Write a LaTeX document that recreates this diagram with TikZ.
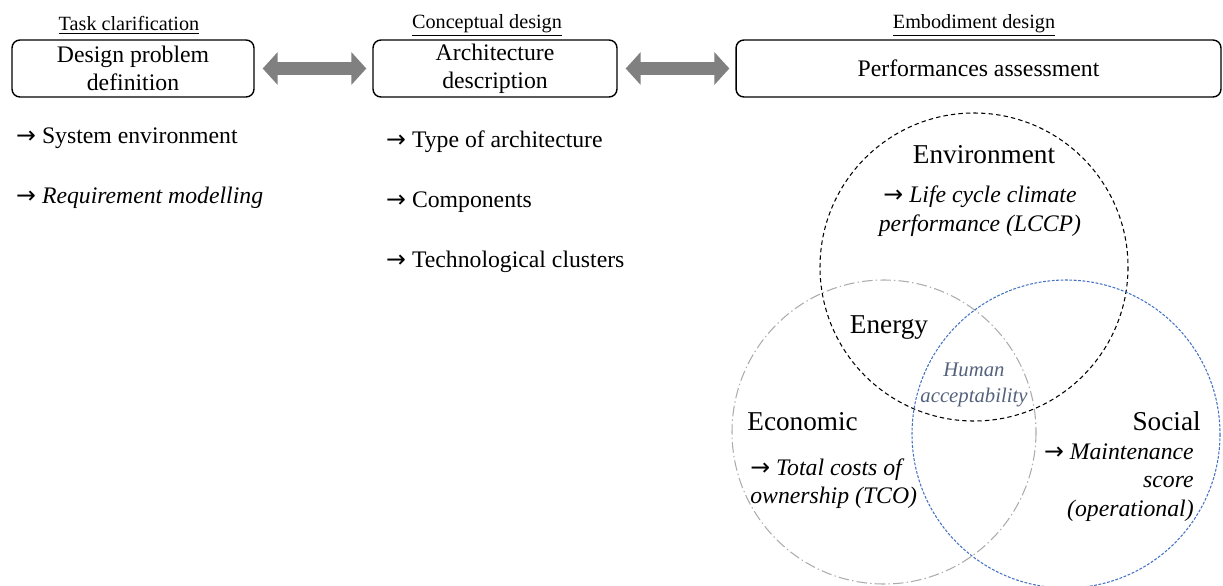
\documentclass[tikz,border=0pt]{standalone}
\usepackage{fontspec}
\setmainfont{Liberation Serif}
\newfontfamily\arrfont{DejaVu Sans}
\newcommand{\rarr}{{\arrfont →}}
\usetikzlibrary{arrows.meta,positioning}

\definecolor{socblue}{RGB}{68,114,196}
\definecolor{humgray}{RGB}{84,98,124}
\definecolor{arrgray}{RGB}{128,128,128}

\tikzset{
  hdr/.style={font=\fontsize{11.5}{13}\selectfont},
  phase/.style={draw, line width=0.8pt, rounded corners=4.5pt, align=center,
    minimum height=1.14cm, inner sep=1pt, font=\fontsize{13.5}{16}\selectfont},
  item/.style={anchor=west, font=\fontsize{13.5}{16}\selectfont},
  big/.style={font=\fontsize{15.5}{18}\selectfont},
  dbl/.style={arrgray, line width=0.26cm,
    {Triangle[width=0.64cm,length=0.3cm]}-{Triangle[width=0.64cm,length=0.3cm]},
    shorten <=0.16cm, shorten >=0.12cm},
}

\begin{document}
\begin{tikzpicture}[x=0.02cm,y=-0.02cm]
    \useasboundingbox (0,0) rectangle (1223,585);

    % Phases
    \node[hdr] (hTask) at (129,25) {\underline{Task clarification}};
    \node[hdr] (hConc) at (487,25) {\underline{Conceptual design}};
    \node[hdr] (hEmb) at (974,25) {\underline{Embodiment design}};

    \node[phase, minimum width=4.84cm] (defn) at (133,68.5) {Design problem\\definition};
    \node[phase, minimum width=4.88cm] (arch) at (495,68.5) {Architecture\\description};
    \node[phase, minimum width=9.7cm] (perf) at (978.5,68.5) {Performances assessment};

    % Links
    \draw[dbl] (defn) -- (arch);
    \draw[dbl] (arch) -- (perf);

    % Items
    \node[item] (sysEnv) at (10,138) {\rarr{} System environment};
    \node[item] (reqMod) at (10,198) {\rarr{} \textit{Requirement modelling}};
    \node[item] (archType) at (380,142) {\rarr{} Type of architecture};
    \node[item] (comps) at (380,202) {\rarr{} Components};
    \node[item] (clusters) at (380,262) {\rarr{} Technological clusters};

    % Venn
    \draw[line width=0.6pt, dash pattern=on 2.5pt off 1.8pt] (974,267) circle (154);
    \draw[gray!65, line width=0.6pt, dash pattern=on 6pt off 1.8pt on 0.8pt off 1.8pt] (884,432) circle (152);
    \draw[socblue, line width=0.6pt, dash pattern=on 1.6pt off 0.9pt] (1066,434) circle (154);

    \node[big, anchor=base] (envT) at (984,163) {Environment};
    \node[align=center, anchor=north, font=\fontsize{13.5}{16.4}\selectfont] (lccp) at (980,180)
      {\rarr{} \textit{Life cycle climate}\\\textit{performance (LCCP)}};
    \node[big, anchor=base] (energy) at (889,333) {Energy};
    \node[humgray, align=center, anchor=north, font=\fontsize{11.8}{14.5}\selectfont] (human) at (974,357)
      {\textit{Human}\\\textit{acceptability}};
    \node[big, anchor=base west, inner sep=0pt] (econ) at (747,430) {Economic};
    \node[align=left, anchor=north west, inner sep=0pt, font=\fontsize{13.5}{16}\selectfont] (tco) at (750,458)
      {\rarr{} \textit{Total costs of}\\\textit{ownership (TCO)}};
    \node[big, anchor=base east, inner sep=0pt] (social) at (1201,430) {Social};
    \node[align=right, anchor=north east, inner sep=0pt, font=\fontsize{13.5}{16.4}\selectfont] (maint) at (1194,443)
      {\rarr{} \textit{Maintenance}\\\textit{score}\\\textit{(operational)}};
\end{tikzpicture}
\end{document}
